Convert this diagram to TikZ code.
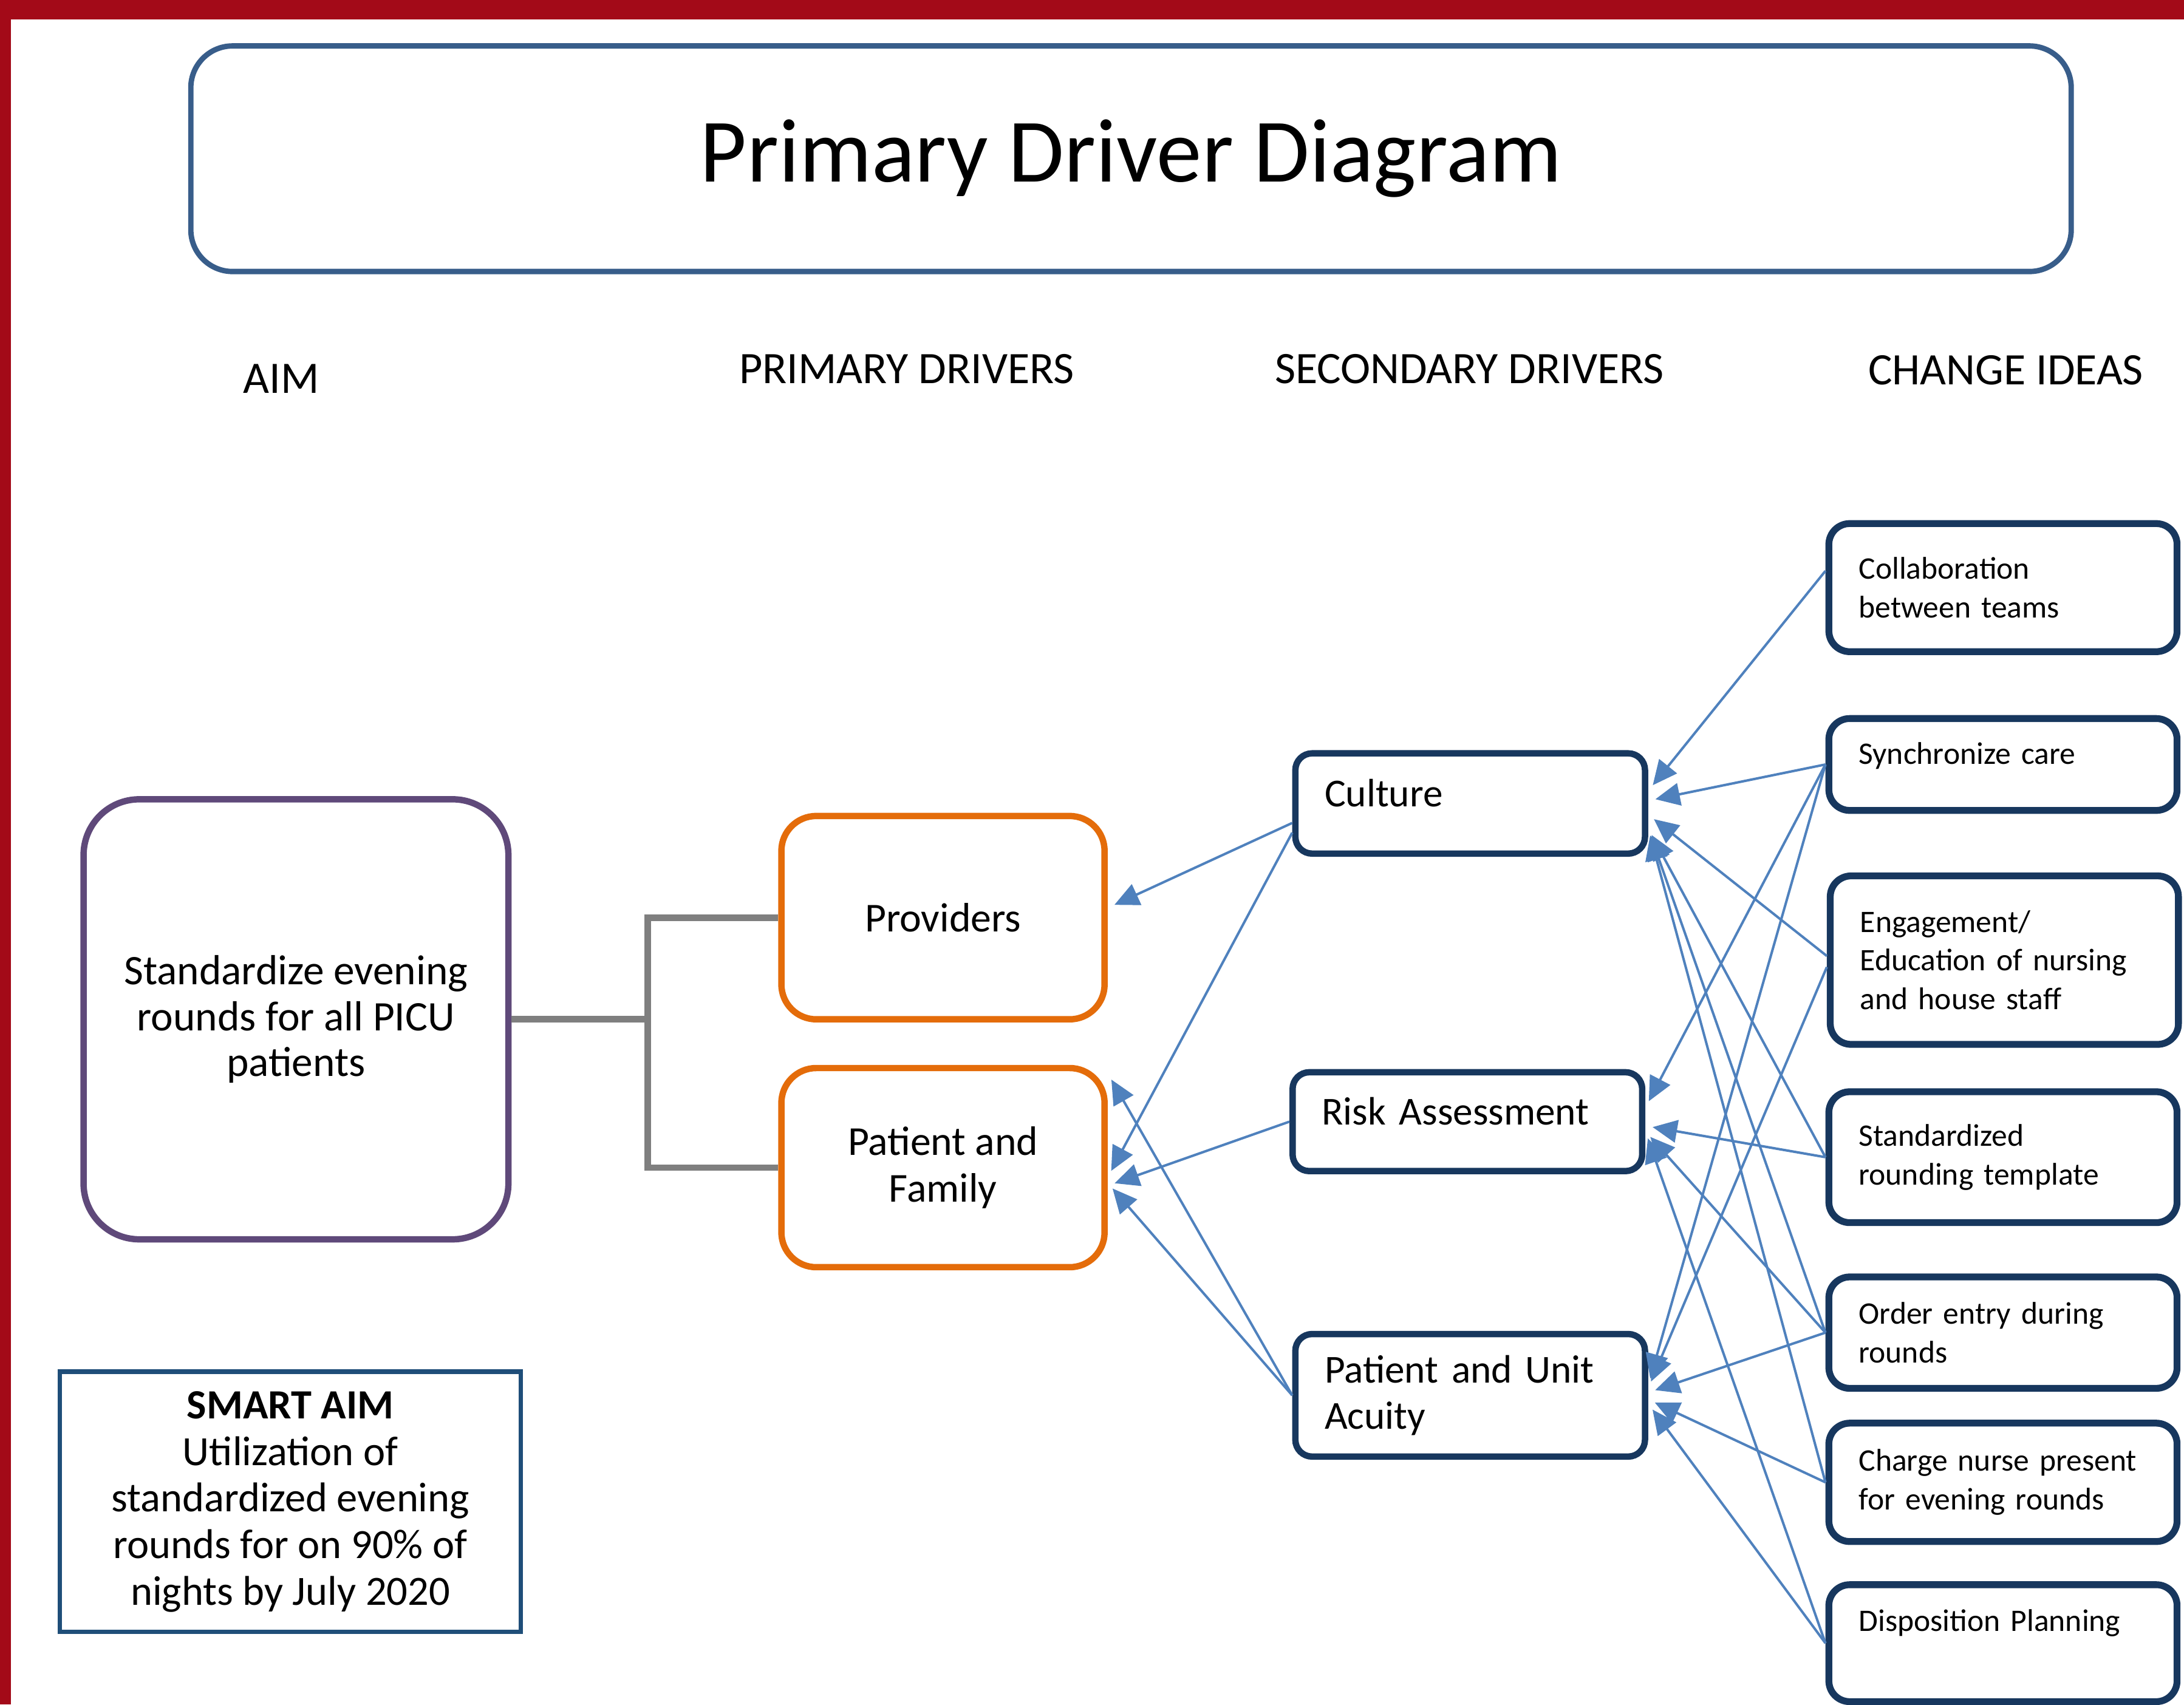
\documentclass[tikz,border=0pt]{standalone}
\usepackage{fontspec}
\setmainfont{Carlito}
\usetikzlibrary{arrows.meta}
\definecolor{framered}{HTML}{A30A18}
\definecolor{titleblue}{HTML}{385D8A}
\definecolor{aimpurple}{HTML}{5F497A}
\definecolor{driverorange}{HTML}{E46C0A}
\definecolor{navy}{HTML}{17375E}
\definecolor{smartblue}{HTML}{1F4E79}
\definecolor{arrowblue}{HTML}{4F81BD}
\definecolor{treegrey}{HTML}{7F7F7F}
\begin{document}
\begin{tikzpicture}
  \tikzstyle{titlebox}=[draw=titleblue,line width=1.1pt,rounded corners=0.3cm,minimum width=13.5cm,minimum height=1.62cm,font=\fontsize{18.5}{22}\selectfont]
  \tikzstyle{header}=[font=\fontsize{9.2}{11}\selectfont]
  \tikzstyle{aimbox}=[draw=aimpurple,line width=1.3pt,rounded corners=0.4cm,minimum width=3.05cm,minimum height=3.16cm,align=center,font=\fontsize{8.6}{9.4}\selectfont]
  \tikzstyle{primary}=[draw=driverorange,line width=1.3pt,rounded corners=0.25cm,minimum width=2.32cm,align=center,font=\fontsize{8.4}{9.6}\selectfont]
  \tikzstyle{secondary}=[draw=navy,line width=1.3pt,rounded corners=0.12cm,text width=2.09cm,inner xsep=0.21cm,align=left,font=\fontsize{8.1}{9.4}\selectfont]
  \tikzstyle{idea}=[draw=navy,line width=1.4pt,rounded corners=0.15cm,text width=2.07cm,inner xsep=0.215cm,align=left,font=\fontsize{6.4}{7.9}\selectfont]
  \tikzstyle{smart}=[draw=smartblue,line width=0.9pt,minimum width=3.31cm,minimum height=1.87cm,align=center,font=\fontsize{8.5}{9.5}\selectfont]
  \tikzstyle{tree}=[draw=treegrey,line width=1.3pt]
  \tikzstyle{edge}=[draw=arrowblue,line width=0.5pt,shorten >=1.5pt,-{Triangle[length=5pt,width=4.6pt]}]
  \useasboundingbox (0,0) rectangle (15.68,12.24);
  \fill[framered] (0,12.10) rectangle (15.68,12.24);
  \fill[framered] (0,0) rectangle (0.08,12.24);
  \node[titlebox] (title) at (8.12,11.10) {Primary Driver Diagram};
  \node[header] (haim) at (2.02,9.52) {AIM};
  \node[header] (hprim) at (6.51,9.59) {PRIMARY DRIVERS};
  \node[header] (hsec) at (10.55,9.59) {SECONDARY DRIVERS};
  \node[header] (hidea) at (14.40,9.58) {CHANGE IDEAS};
  % aim and primary drivers
  \node[aimbox] (aim) at (2.125,4.92) {Standardize evening\\rounds for all PICU\\patients};
  \node[primary,minimum height=1.46cm] (prov) at (6.77,5.65) {Providers};
  \node[primary,minimum height=1.43cm] (pf) at (6.77,3.855) {Patient and\\Family};
  \coordinate (fork) at (4.65,4.92);
  \path[tree] (aim.east) -- (fork);
  \path[tree] (prov.west) -| (fork) |- (pf.west);
  \node[smart] (smart) at (2.085,1.455) {\textbf{SMART AIM}\\Utilization of\\standardized evening\\rounds for on 90\% of\\nights by July 2020};
  % secondary drivers
  \node[secondary,minimum height=0.72cm,text depth=0.15cm] (cult) at (10.555,6.47) {Culture};
  \node[secondary,minimum height=0.71cm,text depth=0.15cm] (risk) at (10.535,4.185) {Risk Assessment};
  \node[secondary,minimum height=0.88cm] (acuity) at (10.555,2.22) {Patient and Unit\\Acuity};
  % change ideas
  \node[idea,minimum height=0.92cm] (collab) at (14.38,8.02) {Collaboration\\between teams};
  \node[idea,minimum height=0.66cm,text depth=0.16cm] (sync) at (14.38,6.75) {Synchronize care};
  \node[idea,minimum height=1.21cm] (engage) at (14.39,5.345) {Engagement/\\Education of nursing\\and house staff};
  \node[idea,minimum height=0.94cm] (stdtpl) at (14.38,3.93) {Standardized\\rounding template};
  \node[idea,minimum height=0.80cm] (order) at (14.38,2.67) {Order entry during\\rounds};
  \node[idea,minimum height=0.85cm] (charge) at (14.38,1.595) {Charge nurse present\\for evening rounds};
  \node[idea,minimum height=0.84cm,text depth=0.33cm] (dispo) at (14.38,0.44) {Disposition Planning};
  % change ideas to secondary drivers
  \path[edge] ([yshift=0.12cm]collab.west) -- ([yshift=0.09cm]cult.east);
  \path[edge] (sync.west) -- ([yshift=0.02cm]cult.east);
  \path[edge] ([yshift=0.03cm]engage.west) -- ([yshift=-0.08cm]cult.east);
  \path[edge] (stdtpl.west) -- ([yshift=-0.18cm]cult.east);
  \path[edge] (order.west) -- ([yshift=-0.18cm]cult.east);
  \path[edge] (charge.west) -- ([yshift=-0.18cm]cult.east);
  \path[edge] (sync.west) -- ([yshift=0.1cm]risk.east);
  \path[edge] (stdtpl.west) -- ([yshift=-0.03cm]risk.east);
  \path[edge] (order.west) -- ([yshift=-0.07cm]risk.east);
  \path[edge] (dispo.west) -- ([yshift=-0.07cm]risk.east);
  \path[edge] (sync.west) -- ([yshift=0.07cm]acuity.east);
  \path[edge] ([yshift=-0.05cm]engage.west) -- ([yshift=0.05cm]acuity.east);
  \path[edge] (order.west) -- ([yshift=0.02cm]acuity.east);
  \path[edge] (charge.west) -- ([yshift=-0.03cm]acuity.east);
  \path[edge] (dispo.west) -- ([yshift=-0.06cm]acuity.east);
  % secondary drivers to primary drivers
  \path[edge] ([yshift=-0.14cm]cult.west) -- ([yshift=0.07cm]prov.east);
  \path[edge] ([yshift=-0.21cm]cult.west) -- ([yshift=-0.07cm]pf.east);
  \path[edge] (risk.west) -- ([yshift=-0.13cm]pf.east);
  \path[edge] (acuity.west) -- ([yshift=-0.11cm]pf.east);
  \path[edge] (acuity.west) -- ([yshift=-0.06cm]pf.north east);
\end{tikzpicture}
\end{document}
